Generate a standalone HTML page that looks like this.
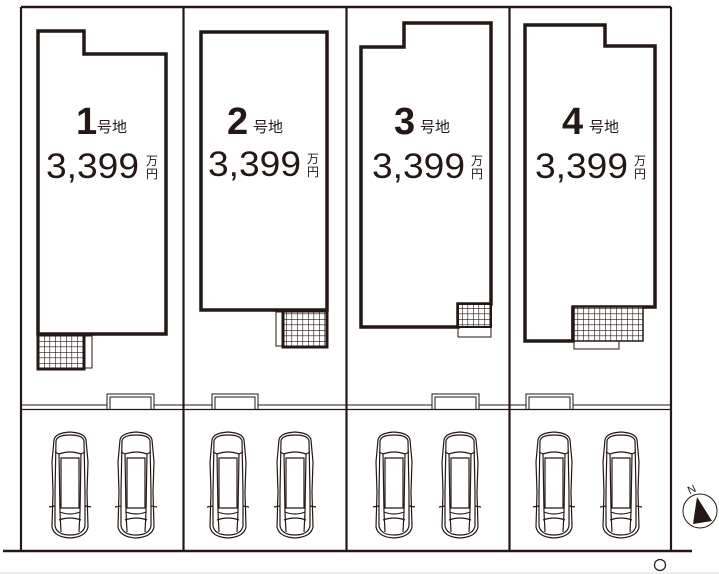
<!DOCTYPE html>
<html><head><meta charset="utf-8"><style>
html,body{margin:0;padding:0;background:#fff;width:719px;height:574px;overflow:hidden}
svg{display:block}
text{font-family:"Liberation Sans","Noto Sans CJK JP",sans-serif;fill:#231815}
</style></head><body>
<svg width="719" height="574" viewBox="0 0 719 574" xmlns="http://www.w3.org/2000/svg">
<defs>
<pattern id="g" width="5.5" height="5.5" patternUnits="userSpaceOnUse">
<rect width="5.5" height="5.5" fill="#fff"/>
<path d="M0 0H5.5M0 0V5.5" stroke="#231815" stroke-width="1.2"/>
</pattern>
<g id="car" fill="none" stroke="#231815" stroke-width="1.2">
<path d="M5 8 Q6 1 21 0 Q36 1 37 8 L39 30 L38 60 L39 95 Q37 105 21 106 Q5 105 3 95 L4 60 L3 30 Z"/>
<path d="M7 9 Q8 3 21 3 Q34 3 35 9 L36 60 L36 94 Q34 103 21 103 Q8 103 6 94 L6 60 Z"/>
<path d="M10 22 Q21 18 32 22 L31 80 Q21 84 11 80 Z"/>
<path d="M12 26 L30 26 L30 76 L12 76 Z"/>
<path d="M10 88 Q21 84 32 88"/>
<path d="M11 80 L12 100 M31 80 L30 100"/>
<path d="M0 75 L6 74 M36 74 L42 75"/>
<path d="M6 20 L10 22 M36 20 L32 22"/>
</g>
</defs>
<g stroke="#231815" fill="none">
<path d="M21 7 H671" stroke-width="2.5"/>
<path d="M21 7 V551 M183.5 7 V551 M346.5 7 V551 M509.5 7 V551 M671 7 V551" stroke-width="2.2"/>
<path d="M3 551 H692" stroke-width="2.5"/>
<path d="M21 405 H107 M154 405 H212 M258 405 H432 M479 405 H526 M573 405 H671" stroke-width="1"/>
<path d="M21 409.5 H671" stroke-width="1.2"/>
<g stroke-width="1">
<path d="M107 409 V394 H154 V409 M110 409 V397 H151 V409"/>
<path d="M212 409 V394 H258 V409 M215 409 V397 H255 V409"/>
<path d="M432 409 V394 H479 V409 M435 409 V397 H476 V409"/>
<path d="M526 409 V394 H573 V409 M529 409 V397 H570 V409"/>
</g>
<path d="M38 31 H84 V54 H166 V334 H38 Z" stroke-width="3.5"/>
<rect x="84" y="336" width="8" height="32" stroke-width="1"/>
<rect x="38" y="335" width="46" height="34" fill="url(#g)" stroke-width="3"/>
<path d="M201 32 H327 V310 H201 Z" stroke-width="3.5"/>
<rect x="276" y="312" width="7" height="34" stroke-width="1"/>
<rect x="283" y="311" width="44" height="36" fill="url(#g)" stroke-width="3"/>
<path d="M361 47 H404 V23 H491 V304 H458 V327 H361 Z" stroke-width="3.5"/>
<rect x="458" y="327" width="33" height="10" stroke-width="1"/>
<rect x="458" y="304" width="33" height="23" fill="url(#g)" stroke-width="2"/>
<path d="M525 25 H605 V46 H655 V307 H573 V341 H525 Z" stroke-width="3.5"/>
<rect x="574" y="341" width="45" height="8" stroke-width="1"/>
<rect x="573" y="307" width="70" height="34" fill="url(#g)" stroke-width="1.5"/>
<path d="M573 307 V341" stroke-width="3.5"/>
</g>
<use href="#car" x="49" y="432"/>
<use href="#car" x="115" y="432"/>
<use href="#car" x="207" y="432"/>
<use href="#car" x="274" y="432"/>
<use href="#car" x="373" y="432"/>
<use href="#car" x="439" y="432"/>
<use href="#car" x="533" y="432"/>
<use href="#car" x="600" y="432"/>
<circle cx="700" cy="511" r="17" fill="none" stroke="#231815" stroke-width="1"/>
<path d="M697 497 L712 521 L693 524 Z" fill="#231815"/>
<text x="688" y="493" font-size="11" transform="rotate(-25 692 490)">N</text>
<circle cx="660" cy="565" r="5.5" fill="none" stroke="#231815" stroke-width="1.2"/>
<path d="M0 573 H719" stroke="#ddd" stroke-width="1"/>
<g>
<text x="76" y="134" font-size="38" font-weight="bold">1</text>
<text x="97" y="132" font-size="15">号地</text>
<text x="46" y="178" font-size="35" textLength="93" lengthAdjust="spacingAndGlyphs">3,399</text>
<text x="146" y="165" font-size="12">万</text><text x="146" y="178" font-size="12">円</text>

<text x="227" y="134" font-size="38" font-weight="bold">2</text>
<text x="253" y="132" font-size="15">号地</text>
<text x="208" y="176" font-size="35" textLength="93" lengthAdjust="spacingAndGlyphs">3,399</text>
<text x="307" y="163" font-size="12">万</text><text x="307" y="176" font-size="12">円</text>

<text x="394" y="134" font-size="38" font-weight="bold">3</text>
<text x="420" y="132" font-size="15">号地</text>
<text x="372" y="178" font-size="35" textLength="93" lengthAdjust="spacingAndGlyphs">3,399</text>
<text x="471" y="165" font-size="12">万</text><text x="471" y="178" font-size="12">円</text>

<text x="562" y="134" font-size="38" font-weight="bold">4</text>
<text x="589" y="132" font-size="15">号地</text>
<text x="535" y="178" font-size="35" textLength="93" lengthAdjust="spacingAndGlyphs">3,399</text>
<text x="634" y="165" font-size="12">万</text><text x="634" y="178" font-size="12">円</text>
</g>
</svg>
</body></html>
